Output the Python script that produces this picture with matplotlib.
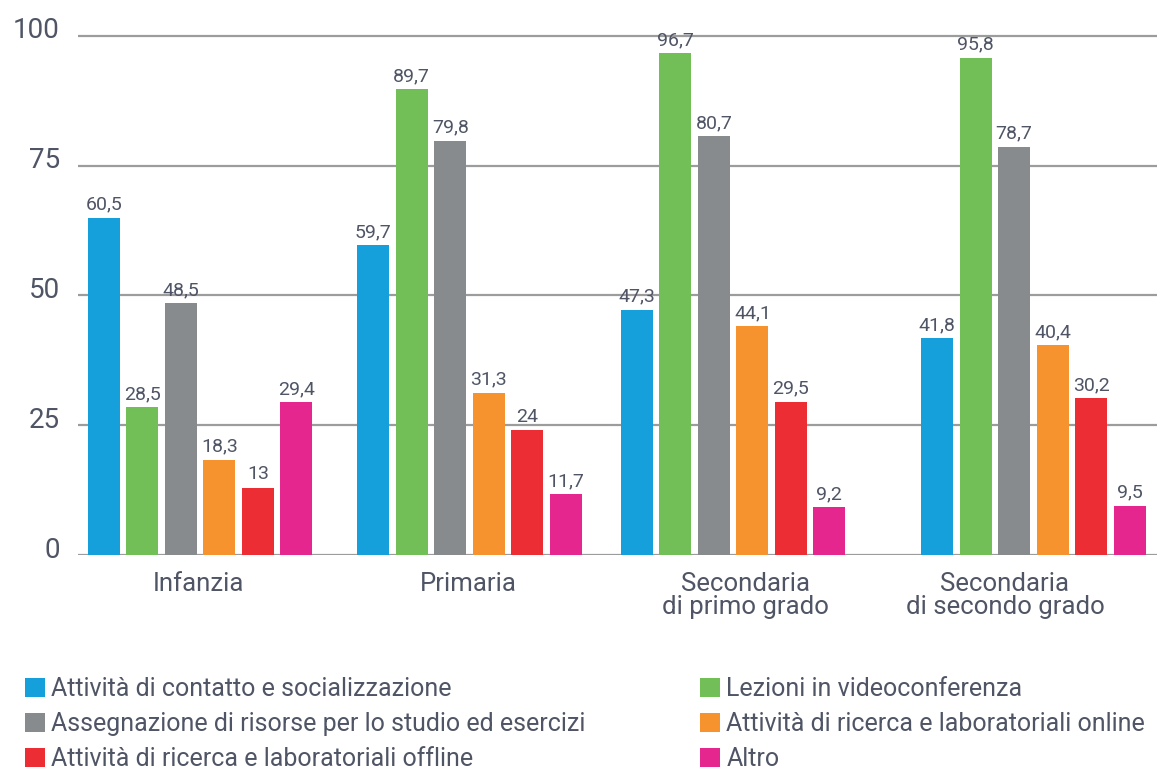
import matplotlib
matplotlib.use("Agg")
import matplotlib.pyplot as plt
import matplotlib.transforms as mtransforms
from matplotlib.patches import Patch

categories = ["Infanzia", "Primaria", "Secondaria\ndi primo grado", "Secondaria\ndi secondo grado"]
series = [
    "Attività di contatto e socializzazione",
    "Lezioni in videoconferenza",
    "Assegnazione di risorse per lo studio ed esercizi",
    "Attività di ricerca e laboratoriali online",
    "Attività di ricerca e laboratoriali offline",
    "Altro",
]
# drawn bar heights (as in the picture)
contatto = [65.0, 59.7, 47.3, 41.8]
video = [28.5, 89.7, 96.7, 95.8]
risorse = [48.5, 79.8, 80.7, 78.7]
online = [18.3, 31.3, 44.1, 40.4]
offline = [13.0, 24.0, 29.5, 30.2]
altro = [29.4, 11.7, 9.2, 9.5]
# printed value labels
lab_contatto = ["60,5", "59,7", "47,3", "41,8"]
lab_video = ["28,5", "89,7", "96,7", "95,8"]
lab_risorse = ["48,5", "79,8", "80,7", "78,7"]
lab_online = ["18,3", "31,3", "44,1", "40,4"]
lab_offline = ["13", "24", "29,5", "30,2"]
lab_altro = ["29,4", "11,7", "9,2", "9,5"]
yticks = [0, 25, 50, 75, 100]

values = [contatto, video, risorse, online, offline, altro]
labels = [lab_contatto, lab_video, lab_risorse, lab_online, lab_offline, lab_altro]
colors = ["#159fdb", "#72bf57", "#878b8e", "#f6932f", "#ec2d33", "#e5268f"]

# layout (in units of one bar slot)
group_pos = [0.0, 7.0, 13.85, 21.65]
label_pos = [-0.05, 6.97, 14.18, 20.91]
bar_w = 0.83

FONT = "Roboto"
TXT = "#4f5565"

W, H = 1157, 770
fig = plt.figure(figsize=(W / 100, H / 100), dpi=100)
ax = fig.add_axes([78 / W, 1 - 555 / H, 1 - 78 / W, (555 - 30.8) / H])
ax.set_xlim(-3.17, 24.86)
ax.set_ylim(0, 101)

for y in yticks:
    ax.axhline(y, color="#9c9c9c", lw=1.6, zorder=1)

for i, (vals, labs, c) in enumerate(zip(values, labels, colors)):
    xs = [g + (i - 2.5) for g in group_pos]
    bars = ax.bar(xs, vals, width=bar_w, color=c, zorder=2)
    for b, lab in zip(bars, labs):
        ax.annotate(lab, (b.get_x() + b.get_width() / 2, b.get_height()),
                    xytext=(0, 3), textcoords="offset points", ha="center", va="bottom",
                    fontsize=14, color=TXT, family=FONT)

for s in ax.spines.values():
    s.set_visible(False)
ax.set_yticks([])
ax.set_xticks(label_pos)
ax.set_xticklabels(categories, fontsize=18.5, color=TXT, family=FONT, linespacing=0.95)
ax.tick_params(axis="x", length=0, pad=12)

ytrans = mtransforms.blended_transform_factory(ax.transAxes, ax.transData) + \
    mtransforms.ScaledTranslation(0, 5 / 100, fig.dpi_scale_trans)
for y in yticks:
    ax.text(-18 / (W - 78), y, str(y), transform=ytrans, ha="right", va="center",
            fontsize=20, color=TXT, family=FONT)

handles = [Patch(facecolor=c) for c in colors]
left_idx = [0, 2, 4]
right_idx = [1, 3, 5]
common = dict(frameon=False, handlelength=0.8, handleheight=0.8,
              handletextpad=0.25, labelspacing=0.44, borderpad=0, borderaxespad=0,
              prop={"family": FONT, "size": 18}, loc="upper left")
leg1 = fig.legend([handles[i] for i in left_idx], [series[i] for i in left_idx],
                  bbox_to_anchor=(25 / W, 1 - 677 / H), **common)
leg2 = fig.legend([handles[i] for i in right_idx], [series[i] for i in right_idx],
                  bbox_to_anchor=(700 / W, 1 - 677 / H), **common)
for leg in (leg1, leg2):
    for t in leg.get_texts():
        t.set_color(TXT)

fig.savefig("out.png", dpi=100, facecolor="white")
